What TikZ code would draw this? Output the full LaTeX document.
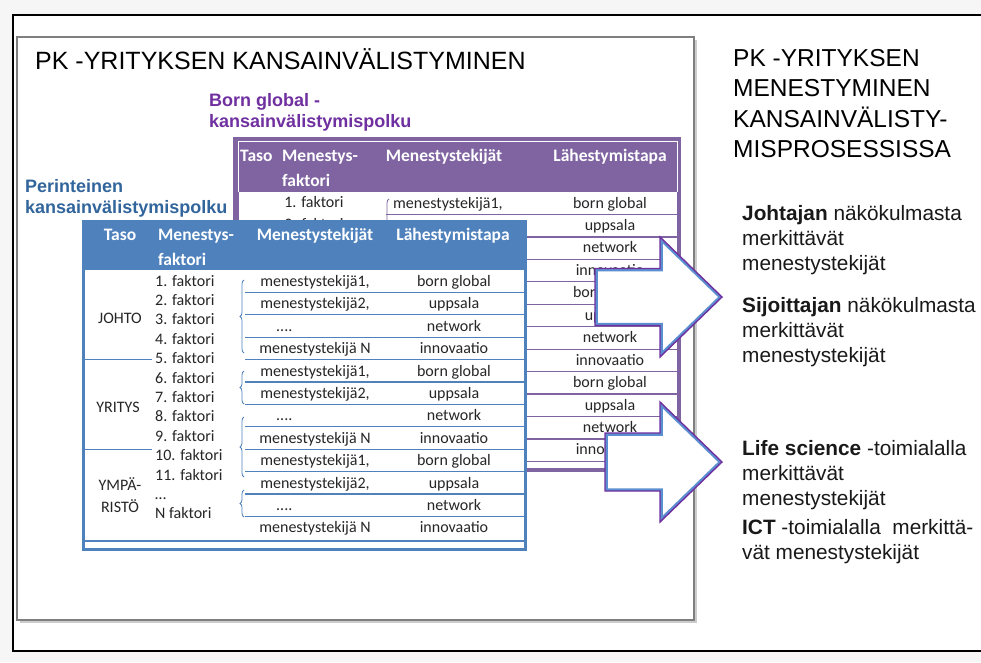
\documentclass[tikz,border=0pt]{standalone}
\usepackage{fontspec}
\setmainfont{Liberation Sans}
\newfontfamily\calfont{Carlito}
\usetikzlibrary{decorations.pathreplacing}

\definecolor{bluehead}{HTML}{4F81BD}
\definecolor{purplehead}{HTML}{8064A2}
\definecolor{labelblue}{HTML}{31659C}
\definecolor{labelpurple}{HTML}{7030A0}
\definecolor{arrowblue}{HTML}{5B8FD0}
\definecolor{arrowpurple}{HTML}{7030A0}
\definecolor{framegray}{HTML}{7F7F7F}
\definecolor{bodytext}{HTML}{262626}

% block arrow: #1 shaft left x, #2 shaft half height, #3 centre y
\newcommand\blockarrow[3]{%
  \fill[white] (#1,#3-#2) -- (660,#3-#2) -- (660,#3-60) -- (722,#3) -- (660,#3+60) -- (660,#3+#2) -- (#1,#3+#2) -- cycle;
  \begin{scope}
    \clip (#1,#3-#2) -- (660,#3-#2) -- (660,#3-60) -- (722,#3) -- (660,#3+60) -- (660,#3+#2) -- (#1,#3+#2) -- cycle;
    \draw[arrowblue, line width=5.5] (#1,#3-#2) -- (660,#3-#2) -- (660,#3-60) -- (722,#3) -- (660,#3+60) -- (660,#3+#2) -- (#1,#3+#2) -- cycle;
  \end{scope}
  \draw[arrowpurple, line width=1.4] (#1,#3-#2) -- (660,#3-#2) -- (660,#3-60) -- (722,#3) -- (660,#3+60) -- (660,#3+#2) -- (#1,#3+#2) -- cycle;
}

\begin{document}
\begin{tikzpicture}[x=1pt, y=-1pt,
  txt/.style={inner sep=0, anchor=base west},
  bigtitle/.style={txt, font=\fontsize{25}{30}\selectfont, text=black},
  sidetitle/.style={txt, font=\fontsize{24.5}{30}\selectfont, text=black},
  sidetext/.style={txt, font=\fontsize{20.8}{25}\selectfont, text=black!90},
  pathlabel/.style={txt, font=\bfseries\fontsize{18}{21}\selectfont},
  hdr/.style={inner sep=0, anchor=base, font=\calfont\bfseries\fontsize{17.5}{20}\selectfont, text=white},
  hdrw/.style={hdr, anchor=base west},
  cell/.style={inner sep=0, anchor=base, font=\calfont\fontsize{16}{19}\selectfont, text=bodytext},
  cellw/.style={cell, anchor=base west},
  bluerule/.style={bluehead, line width=1.2},
  purplerule/.style={purplehead, line width=1.2},
  bracemark/.style={line width=0.8, decorate, decoration={brace, amplitude=4pt}},
]
\useasboundingbox (0,0) rectangle (981,662);
\fill[gray!7] (0,0) rectangle (981,662);

% outer frame and the shadowed grey panel
\draw[black, line width=1.3, fill=white] (13,15) rectangle (995,651);
\fill[gray!40] (20,40) rectangle (697,623);
\draw[framegray, line width=2.5, fill=white] (17,37) rectangle (694,620);

% titles
\node[bigtitle] (title) at (35,69) {PK -YRITYKSEN KANSAINVÄLISTYMINEN};
\node[sidetitle] (rt1) at (733,66) {PK -YRITYKSEN};
\node[sidetitle] (rt2) at (733,96) {MENESTYMINEN};
\node[sidetitle] (rt3) at (733,127) {KANSAINVÄLISTY-};
\node[sidetitle] (rt4) at (733,157) {MISPROSESSISSA};

% path labels
\node[pathlabel, text=labelpurple] (bg1) at (209,106) {Born global -};
\node[pathlabel, text=labelpurple] (bg2) at (209,127) {kansainvälistymispolku};
\node[pathlabel, text=labelblue] (pp1) at (25,192) {Perinteinen};
\node[pathlabel, text=labelblue] (pp2) at (25,213) {kansainvälistymispolku};

% ---------- born global table (back) ----------
\fill[purplehead] (233,137) rectangle (681,472);
\fill[white] (239,192) rectangle (677,468);
\draw[white, line width=0.8] (238,192) -- (238,141.5) -- (677.5,141.5) -- (677.5,192);
\foreach \i in {1,...,12} \draw[purplerule] (386,{192+22.45*\i}) -- (677,{192+22.45*\i});
\draw[purplehead, bracemark] (389,300) -- (389,199);

\node[hdrw] (ph1) at (240,161) {Taso};
\node[hdrw] (ph2) at (282,161) {Menestys-};
\node[hdrw] (ph2b) at (282,186) {faktori};
\node[hdr] (ph3) at (444,161) {Menestystekijät};
\node[hdr] (ph4) at (610,161) {Lähestymistapa};

\node[cell] (pf1) at (314,207) {1. faktori};
\node[cell] (pf2) at (314,229) {2. faktori};
\node[cellw] (pm1) at (393,208) {menestystekijä1,};
\foreach \t [count=\i from 0] in {born global, uppsala, network, innovaatio, born global, uppsala, network, innovaatio, born global, uppsala, network, innovaatio}
  \node[cell] (pl\i) at (610,{192+22.45*\i+16}) {\t};

% ---------- traditional table (front) ----------
\fill[bluehead] (82,220) rectangle (527,551);
\fill[white] (85,270) rectangle (524,548);
\foreach \i in {1,...,11} \draw[bluerule] (245,{270+22.4*\i}) -- (524,{270+22.4*\i});
\draw[bluerule] (85,359.6) -- (152,359.6);
\draw[bluerule] (85,449.2) -- (152,449.2);
\draw[bluerule] (85,541) -- (524,541);

\draw[bluehead, bracemark] (244,353) -- (244,280);
\draw[bluehead, bracemark] (244,404) -- (244,371);
\draw[bluehead, bracemark] (244,477) -- (244,417);
\draw[bluehead, bracemark] (244,517) -- (244,490);

\node[hdr] (bh1) at (120,240) {Taso};
\node[hdrw] (bh2) at (158,240) {Menestys-};
\node[hdrw] (bh2b) at (158,265) {faktori};
\node[hdr] (bh3) at (315,240) {Menestystekijät};
\node[hdr] (bh4) at (453,240) {Lähestymistapa};

\node[cell] (lv1) at (120,323) {JOHTO};
\node[cell] (lv2) at (118,412) {YRITYS};
\node[cell] (lv3) at (120,490) {YMPÄ-};
\node[cell] (lv4) at (120,512) {RISTÖ};

\foreach \n in {1,...,11}
  \node[cellw] (bf\n) at (155,{286+19.4*(\n-1)}) {\n. faktori};
\node[cellw] (bfdots) at (155,{286+19.4*11}) {\ldots};
\node[cellw] (bfN) at (155,{286+19.4*12}) {N faktori};

\foreach \m/\l [count=\i from 0] in {{menestystekijä1,}/{born global}, {menestystekijä2,}/{uppsala}, {}/{network}, {menestystekijä N}/{innovaatio},
    {menestystekijä1,}/{born global}, {menestystekijä2,}/{uppsala}, {}/{network}, {menestystekijä N}/{innovaatio},
    {menestystekijä1,}/{born global}, {menestystekijä2,}/{uppsala}, {}/{network}, {menestystekijä N}/{innovaatio}}
{
  \node[cell] (bm\i) at (315,{270+22.4*\i+16.5}) {\m};
  \node[cell] (bl\i) at (454,{270+22.4*\i+16.5}) {\l};
}
\node[cellw] (bd2) at (276,{270+22.4*2+16.5}) {....};
\node[cellw] (bd6) at (276,{270+22.4*6+16.5}) {....};
\node[cellw] (bd10) at (276,{270+22.4*10+16.5}) {....};

% ---------- block arrows ----------
\blockarrow{595}{28.5}{297}
\blockarrow{605}{29}{462}

% ---------- right-hand texts ----------
\node[sidetext] (s1) at (742,220) {\textbf{Johtajan} näkökulmasta};
\node[sidetext] (s2) at (742,245) {merkittävät};
\node[sidetext] (s3) at (742,270) {menestystekijät};
\node[sidetext] (s4) at (742,312) {\textbf{Sijoittajan} näkökulmasta};
\node[sidetext] (s5) at (742,337) {merkittävät};
\node[sidetext] (s6) at (742,362) {menestystekijät};
\node[sidetext] (s7) at (742,455) {\textbf{Life science} -toimialalla};
\node[sidetext] (s8) at (742,480) {merkittävät};
\node[sidetext] (s9) at (742,505) {menestystekijät};
\node[sidetext] (s10) at (742,534) {\textbf{ICT} -toimialalla\ \ merkittä-};
\node[sidetext] (s11) at (742,559) {vät menestystekijät};
\end{tikzpicture}
\end{document}
